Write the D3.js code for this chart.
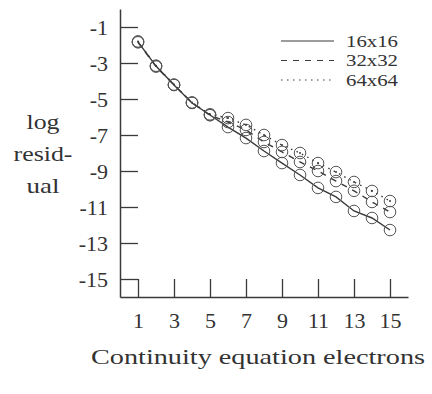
<!DOCTYPE html>
<html>
<head>
<meta charset="utf-8">
<script src="https://cdn.jsdelivr.net/npm/d3@7"></script>
<style>
  html, body { margin: 0; padding: 0; background: #fff; }
  svg { display: block; }
  text { font-family: "Liberation Serif", "Times New Roman", serif; fill: #333; }
</style>
</head>
<body>
<svg id="chart" width="432" height="394"></svg>
<script>
// Iteration counts (x) and log residuals per grid size
const iterations = [1, 2, 3, 4, 5, 6, 7, 8, 9, 10, 11, 12, 13, 14, 15];
const grid16 = [-1.83, -3.17, -4.22, -5.22, -5.89, -6.56, -7.17, -7.89, -8.56, -9.22, -9.94, -10.44, -11.22, -11.61, -12.28];
const grid32 = [-1.85, -3.2, -4.22, -5.2, -5.9, -6.28, -6.72, -7.39, -7.94, -8.5, -9.0, -9.56, -10.1, -10.72, -11.28];
const grid64 = [-1.8, -3.15, -4.2, -5.2, -5.85, -6.06, -6.44, -7.0, -7.56, -8.0, -8.56, -9.06, -9.61, -10.11, -10.67];
const seriesNames = ["16x16", "32x32", "64x64"];
const xTicks = [1, 3, 5, 7, 9, 11, 13, 15];
const yTicks = [-1, -3, -5, -7, -9, -11, -13, -15];

const svg = d3.select("#chart");
const ink = "#3a3a3a";

const x = d3.scaleLinear().domain([0, 16]).range([120, 408]);
const y = d3.scaleLinear().domain([0, -16]).range([9, 297]);

// Plain hyphen for negative numbers
const fmt = d => String(d);

// Left axis: ticks point into the plot, labels on the left
const yAxis = d3.axisLeft(y)
  .tickValues(yTicks)
  .tickFormat(fmt)
  .tickSizeInner(-18)
  .tickSizeOuter(0)
  .tickPadding(12);
const gy = svg.append("g").attr("transform", `translate(${x(0)},0)`).call(yAxis);

// Bottom axis: ticks point up into the plot
const xAxis = d3.axisBottom(x)
  .tickValues(xTicks)
  .tickFormat(fmt)
  .tickSizeInner(-18)
  .tickSizeOuter(0)
  .tickPadding(15);
const gx = svg.append("g").attr("transform", `translate(0,${y(-16)})`).call(xAxis);

[gx, gy].forEach(g => {
  g.selectAll("path.domain").attr("stroke", ink).attr("stroke-width", 1.5);
  g.selectAll(".tick line").attr("stroke", ink).attr("stroke-width", 1.3);
  g.selectAll(".tick text")
    .attr("font-family", "Liberation Serif, serif")
    .attr("font-size", 22)
    .attr("fill", ink);
});
gy.selectAll(".tick text").attr("dy", "0.34em");

// Series
const styles = [
  { values: grid16, dash: null },
  { values: grid32, dash: "6,6" },
  { values: grid64, dash: "1.5,4.5" }
];
const line = d3.line().x(d => x(d[0])).y(d => y(d[1]));

styles.forEach((s, i) => {
  const pts = iterations.map((it, k) => [it, s.values[k]]);
  svg.append("path")
    .datum(pts)
    .attr("d", line)
    .attr("fill", "none")
    .attr("stroke", ink)
    .attr("stroke-width", 1.4)
    .attr("stroke-dasharray", s.dash);
  svg.append("g").selectAll("circle")
    .data(pts)
    .join("circle")
    .attr("cx", d => x(d[0]))
    .attr("cy", d => y(d[1]))
    .attr("r", 5.8)
    .attr("fill", "none")
    .attr("stroke", "#555")
    .attr("stroke-width", 1);
  if (i === 2) {
    svg.append("g").selectAll("circle")
      .data(pts)
      .join("circle")
      .attr("cx", d => x(d[0]))
      .attr("cy", d => y(d[1]))
      .attr("r", 1)
      .attr("fill", ink);
  }
});

// Legend
const legend = svg.append("g");
seriesNames.forEach((name, i) => {
  const ly = 41 + i * 19.5;
  legend.append("line")
    .attr("x1", 281).attr("x2", 334)
    .attr("y1", ly).attr("y2", ly)
    .attr("stroke", ink)
    .attr("stroke-width", 1.2)
    .attr("stroke-dasharray", styles[i].dash);
  legend.append("text")
    .attr("x", 346).attr("y", ly)
    .attr("dy", "0.34em")
    .attr("font-size", 17.5)
    .attr("textLength", 52)
    .attr("lengthAdjust", "spacingAndGlyphs")
    .text(name);
});

// Y axis title, three lines
const yTitle = ["log", "resid-", "ual"];
const yTitleWidth = [33, 59, 33];
svg.append("g").selectAll("text")
  .data(yTitle)
  .join("text")
  .attr("x", 43)
  .attr("y", (d, i) => 129 + i * 32)
  .attr("text-anchor", "middle")
  .attr("font-size", 22)
  .attr("textLength", (d, i) => yTitleWidth[i])
  .attr("lengthAdjust", "spacingAndGlyphs")
  .text(d => d);

// X axis title
svg.append("text")
  .attr("x", 258)
  .attr("y", 364)
  .attr("text-anchor", "middle")
  .attr("font-size", 22)
  .attr("textLength", 334)
  .attr("lengthAdjust", "spacingAndGlyphs")
  .text("Continuity equation electrons");
</script>
</body>
</html>
